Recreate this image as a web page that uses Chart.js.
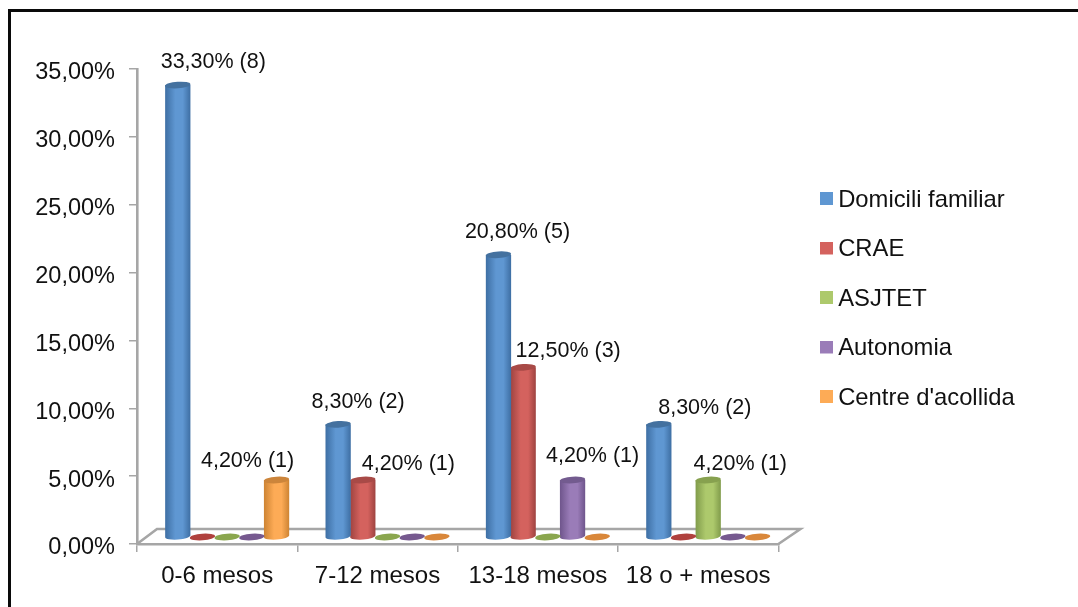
<!DOCTYPE html>
<html>
<head>
<meta charset="utf-8">
<style>
  html, body { margin: 0; padding: 0; background: #fff; overflow: hidden; }
  canvas { display: block; }
</style>
<script src="https://cdn.jsdelivr.net/npm/chart.js@4"></script>
</head>
<body>
<canvas id="chart" width="1078" height="607"></canvas>
<script>
// Stay durations by destination after leaving care
const categories = ['0-6 mesos', '7-12 mesos', '13-18 mesos', '18 o + mesos'];
const seriesNames = ['Domicili familiar', 'CRAE', 'ASJTET', 'Autonomia', "Centre d'acollida"];

const domiciliFamiliar = [33.3, 8.3, 20.8, 8.3];
const crae = [0, 4.2, 12.5, 0];
const asjtet = [0, 0, 0, 4.2];
const autonomia = [0, 0, 4.2, 0];
const centreAcollida = [4.2, 0, 0, 0];

const domiciliCases = [8, 2, 5, 2];
const craeCases = [0, 1, 3, 0];
const asjtetCases = [0, 0, 0, 1];
const autonomiaCases = [0, 0, 1, 0];
const centreCases = [1, 0, 0, 0];

const yTicks = [0, 5, 10, 15, 20, 25, 30, 35];

const seriesValues = [domiciliFamiliar, crae, asjtet, autonomia, centreAcollida];
const seriesCases = [domiciliCases, craeCases, asjtetCases, autonomiaCases, centreCases];

// Swatch, shaded edge and cap colours for each cylinder series
const palette = [
  { face: '#5f97d2', edge: '#3f70a5', cap: '#44719f', floor: '#4f81bd' },
  { face: '#d4625e', edge: '#a04441', cap: '#a84a47', floor: '#b0413e' },
  { face: '#adc96c', edge: '#829d4c', cap: '#87a14f', floor: '#8aa64e' },
  { face: '#9a7cb8', edge: '#70568d', cap: '#735b8f', floor: '#76598f' },
  { face: '#fdab56', edge: '#cf8534', cap: '#cc853b', floor: '#d9873a' }
];

// Depth of the 3D floor and the shift of the bars onto it
const depth = { x: 20, y: -15, barX: 10, barY: -7, capRy: 3.3, tilt: -0.07 };
const axisGray = '#a6a6a6';
const fontFamily = '"Liberation Sans", Arial, sans-serif';

// Hand-placed value labels: [series, category, dx from bar centre, dy above bar top]
const labelPlacement = [
  [0, 0, 35.5, 22.5], [4, 0, -29, 19],
  [0, 1, 20, 22], [1, 1, 45.5, 16],
  [0, 2, 19, 23], [1, 2, 45, 16], [3, 2, 20, 23.5],
  [0, 3, 46, 16], [2, 3, 32, 16]
];

const formatPercent = v => v.toFixed(2).replace('.', ',') + '%';

// Legend swatch: a 13px square, raised slightly against the text line
function makeSwatch(colour) {
  const swatch = document.createElement('canvas');
  swatch.width = 13;
  swatch.height = 16;
  const g = swatch.getContext('2d');
  g.fillStyle = colour;
  g.fillRect(0, 0, 13, 13);
  return swatch;
}
const swatches = palette.map(p => makeSwatch(p.face));

const cylinderPlugin = {
  id: 'cylinders',
  afterLayout(chart) {
    // Legend sits beside the floor, centred on the upper part of the plot
    const legend = chart.legend;
    const shift = chart.chartArea.right + 21.7 - legend.left;
    legend.left += shift;
    legend.right += shift;
    legend.top -= 39;
    legend.bottom -= 39;
  },
  beforeDraw(chart) {
    const { ctx, chartArea: a } = chart;
    // Value axis labels sit a little below their ticks
    chart.scales.y.getLabelItems().forEach(item => {
      if (!item.lowered) {
        item.options.translation[1] += 4;
        item.lowered = true;
      }
    });
    ctx.save();
    // Frame along the top and left edges of the figure
    ctx.fillStyle = '#0a0a0a';
    ctx.fillRect(8, 9, chart.width - 8, 3);
    ctx.fillRect(8, 9, 3, chart.height - 9);
    // Floor of the 3D plot
    ctx.strokeStyle = axisGray;
    ctx.lineWidth = 2.6;
    ctx.lineJoin = 'miter';
    ctx.beginPath();
    ctx.moveTo(a.left, a.bottom);
    ctx.lineTo(a.left + depth.x, a.bottom + depth.y);
    ctx.lineTo(a.right + depth.x + 2, a.bottom + depth.y);
    ctx.lineTo(a.right, a.bottom);
    ctx.stroke();
    ctx.restore();
  },
  // The library's flat rectangles are replaced by cylinders built from the same elements
  beforeDatasetDraw(chart, args) {
    const { ctx } = chart;
    const colours = palette[args.index];
    args.meta.data.forEach(bar => {
      const cx = bar.x + depth.barX;
      const half = bar.width / 2;
      const rx = half + 0.3;
      const top = bar.y + depth.barY;
      const base = bar.base + depth.barY;
      ctx.save();
      if (base - top < 0.5) {
        ctx.fillStyle = colours.floor;
        ctx.beginPath();
        ctx.ellipse(cx, base, rx, depth.capRy, depth.tilt, 0, Math.PI * 2);
        ctx.fill();
      } else {
        const shade = ctx.createLinearGradient(cx - half, 0, cx + half, 0);
        shade.addColorStop(0, colours.edge);
        shade.addColorStop(0.4, colours.face);
        shade.addColorStop(0.7, colours.face);
        shade.addColorStop(1, colours.edge);
        ctx.fillStyle = shade;
        ctx.beginPath();
        ctx.ellipse(cx, base, rx, depth.capRy, depth.tilt, 0, Math.PI);
        ctx.lineTo(cx - rx, top);
        ctx.lineTo(cx + rx, top);
        ctx.closePath();
        ctx.fill();
        ctx.fillStyle = colours.cap;
        ctx.beginPath();
        ctx.ellipse(cx, top, rx, depth.capRy, depth.tilt, 0, Math.PI * 2);
        ctx.fill();
      }
      ctx.restore();
    });
    return false;
  },
  afterDatasetsDraw(chart) {
    const { ctx } = chart;
    ctx.save();
    ctx.fillStyle = '#111';
    ctx.font = '21.5px ' + fontFamily;
    ctx.textAlign = 'center';
    ctx.textBaseline = 'middle';
    labelPlacement.forEach(([s, c, dx, dy]) => {
      const bar = chart.getDatasetMeta(s).data[c];
      const text = formatPercent(seriesValues[s][c]) + ' (' + seriesCases[s][c] + ')';
      ctx.fillText(text, bar.x + depth.barX + dx, bar.y + depth.barY - dy);
    });
    ctx.restore();
  }
};

new Chart(document.getElementById('chart'), {
  type: 'bar',
  data: {
    labels: categories,
    datasets: seriesNames.map((name, i) => ({
      label: name,
      data: seriesValues[i],
      backgroundColor: palette[i].face,
      borderWidth: 0,
      barPercentage: 1,
      categoryPercentage: 0.77
    }))
  },
  options: {
    responsive: false,
    animation: false,
    layout: { padding: { top: 69, right: 75, bottom: 0, left: 0 } },
    plugins: {
      tooltip: { enabled: false },
      legend: {
        position: 'right',
        align: 'center',
        labels: {
          color: '#111',
          usePointStyle: true,
          pointStyleWidth: 0.5,
          boxHeight: 13,
          padding: 25.7,
          font: { family: fontFamily, size: 23.8 },
          generateLabels(chart) {
            return Chart.defaults.plugins.legend.labels.generateLabels(chart)
              .map((item, i) => ({ ...item, pointStyle: swatches[i] }));
          }
        }
      }
    },
    scales: {
      x: {
        offset: true,
        afterFit(axis) { axis.height = 63; },
        grid: { offset: true, drawOnChartArea: false, color: axisGray, lineWidth: 1.5, tickLength: 8 },
        border: { color: axisGray, width: 2.6 },
        ticks: { color: '#111', padding: 10, maxRotation: 0, font: { family: fontFamily, size: 24 } }
      },
      y: {
        min: 0,
        max: 35,
        afterFit(axis) { axis.width = 137; },
        afterBuildTicks(axis) { axis.ticks = yTicks.map(value => ({ value })); },
        grid: { drawOnChartArea: false, color: axisGray, lineWidth: 1.5, tickLength: 8 },
        border: { color: axisGray, width: 2.6 },
        ticks: { color: '#111', padding: 14, callback: v => formatPercent(v), font: { family: fontFamily, size: 23.5 } }
      }
    }
  },
  plugins: [cylinderPlugin]
});
</script>
</body>
</html>
